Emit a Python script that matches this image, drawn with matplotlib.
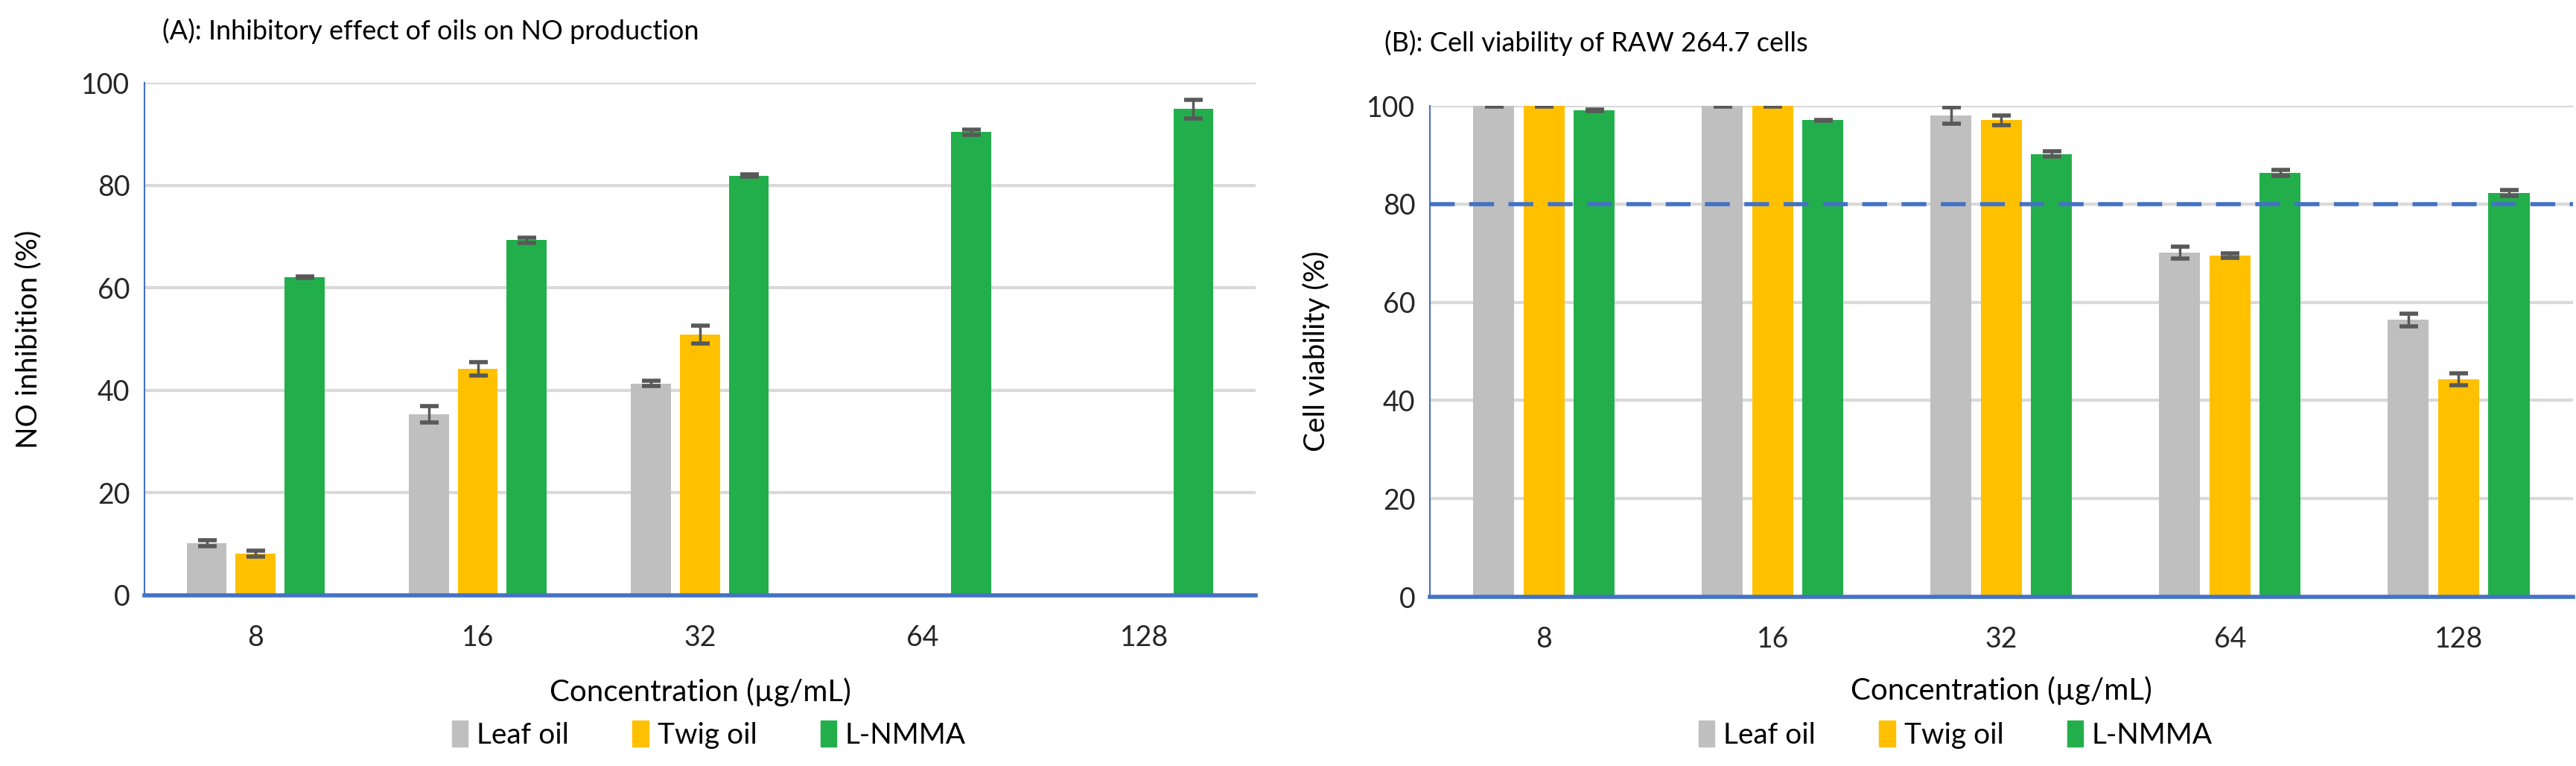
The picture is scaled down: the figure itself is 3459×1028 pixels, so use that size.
import numpy as np
import matplotlib
matplotlib.use("Agg")
import matplotlib.pyplot as plt
from matplotlib.patches import Patch

plt.rcParams['font.family'] = ['Lato', 'DejaVu Sans']

conc = ["8", "16", "32", "64", "128"]
series = ["Leaf oil", "Twig oil", "L-NMMA"]
colors = ["#BFBFBF", "#FFC000", "#22AF4B"]

# (A) NO inhibition (%)
no_leaf = [10.2, 35.3, 41.3, np.nan, np.nan]
no_leaf_err = [0.6, 1.6, 0.5, 0, 0]
no_twig = [8.1, 44.2, 50.9, np.nan, np.nan]
no_twig_err = [0.6, 1.3, 1.7, 0, 0]
no_lnmma = [62.1, 69.3, 81.9, 90.4, 94.9]
no_lnmma_err = [0.2, 0.5, 0.2, 0.5, 1.8]

# (B) cell viability (%)
cv_leaf = [100, 100, 98.0, 70.1, 56.4]
cv_leaf_err = [0.1, 0.1, 1.7, 1.2, 1.3]
cv_twig = [100, 100, 97.1, 69.5, 44.3]
cv_twig_err = [0.1, 0.1, 1.0, 0.5, 1.2]
cv_lnmma = [99.1, 97.1, 90.2, 86.4, 82.2]
cv_lnmma_err = [0.2, 0.1, 0.5, 0.6, 0.6]
threshold = 80

fig = plt.figure(figsize=(34.59, 10.28), dpi=100)
axA = fig.add_axes([0.0561, 0.2228, 0.4313, 0.669])
axB = fig.add_axes([0.555, 0.2208, 0.4438, 0.641])

x = np.arange(len(conc))
w = 0.18
offs = [-0.22, 0, 0.22]


def draw(ax, vals, errs):
    for i in range(3):
        ax.bar(x + offs[i], vals[i], w, color=colors[i], zorder=3)
        ax.errorbar(x + offs[i], vals[i], yerr=errs[i], fmt="none",
                    ecolor="#595959", elinewidth=2.5, capsize=9,
                    capthick=4, zorder=4)
    ax.set_xlim(-0.5, len(conc) - 0.5)
    ax.set_ylim(0, 100)
    ax.set_yticks([0, 20, 40, 60, 80, 100])
    ax.set_xticks(x)
    ax.set_xticklabels(conc)
    ax.grid(axis="y", color="#D9D9D9", linewidth=3, zorder=0)
    ax.tick_params(length=0, labelsize=27, colors="#262626")
    ax.tick_params(axis="x", pad=28)
    ax.tick_params(axis="y", pad=14)
    for s in ["top", "right"]:
        ax.spines[s].set_visible(False)
    ax.spines["left"].set_color("#4472C4")
    ax.spines["left"].set_linewidth(1.5)
    ax.spines["bottom"].set_color("#4472C4")
    ax.spines["bottom"].set_linewidth(4)
    ax.spines["bottom"].set_zorder(5)


draw(axA, [no_leaf, no_twig, no_lnmma], [no_leaf_err, no_twig_err, no_lnmma_err])
draw(axB, [cv_leaf, cv_twig, cv_lnmma], [cv_leaf_err, cv_twig_err, cv_lnmma_err])
axB.axhline(threshold, color="#4472C4", linewidth=4, linestyle=(0, (6, 3.5)), zorder=5)

fig.text(0.063, 0.959, "(A): Inhibitory effect of oils on NO production",
         fontsize=26, va="center", ha="left")
fig.text(0.5374, 0.9436, "(B): Cell viability of RAW 264.7 cells",
         fontsize=26, va="center", ha="left")

fig.text(0.011, 0.2228 + 0.669 / 2, "NO inhibition (%)", rotation=90,
         fontsize=28, va="center", ha="center")
fig.text(0.511, 0.2208 + 0.641 / 2, "Cell viability (%)", rotation=90,
         fontsize=28, va="center", ha="center")

fig.text(940 / 3459, 1 - 929 / 1028, "Concentration (µg/mL)", fontsize=29,
         va="center", ha="center")
fig.text(2687 / 3459, 1 - 927 / 1028, "Concentration (µg/mL)", fontsize=29,
         va="center", ha="center")

handles = [Patch(color=c, label=s) for c, s in zip(colors, series)]
for cx in [952 / 3459, 2626 / 3459]:
    fig.legend(handles=handles, loc="center", bbox_to_anchor=(cx, 1 - 986 / 1028),
               ncol=3, frameon=False, fontsize=28, handlelength=0.55,
               handleheight=1.0, handletextpad=0.3, columnspacing=2.2)

fig.savefig("out.png", dpi=100, facecolor="white")
